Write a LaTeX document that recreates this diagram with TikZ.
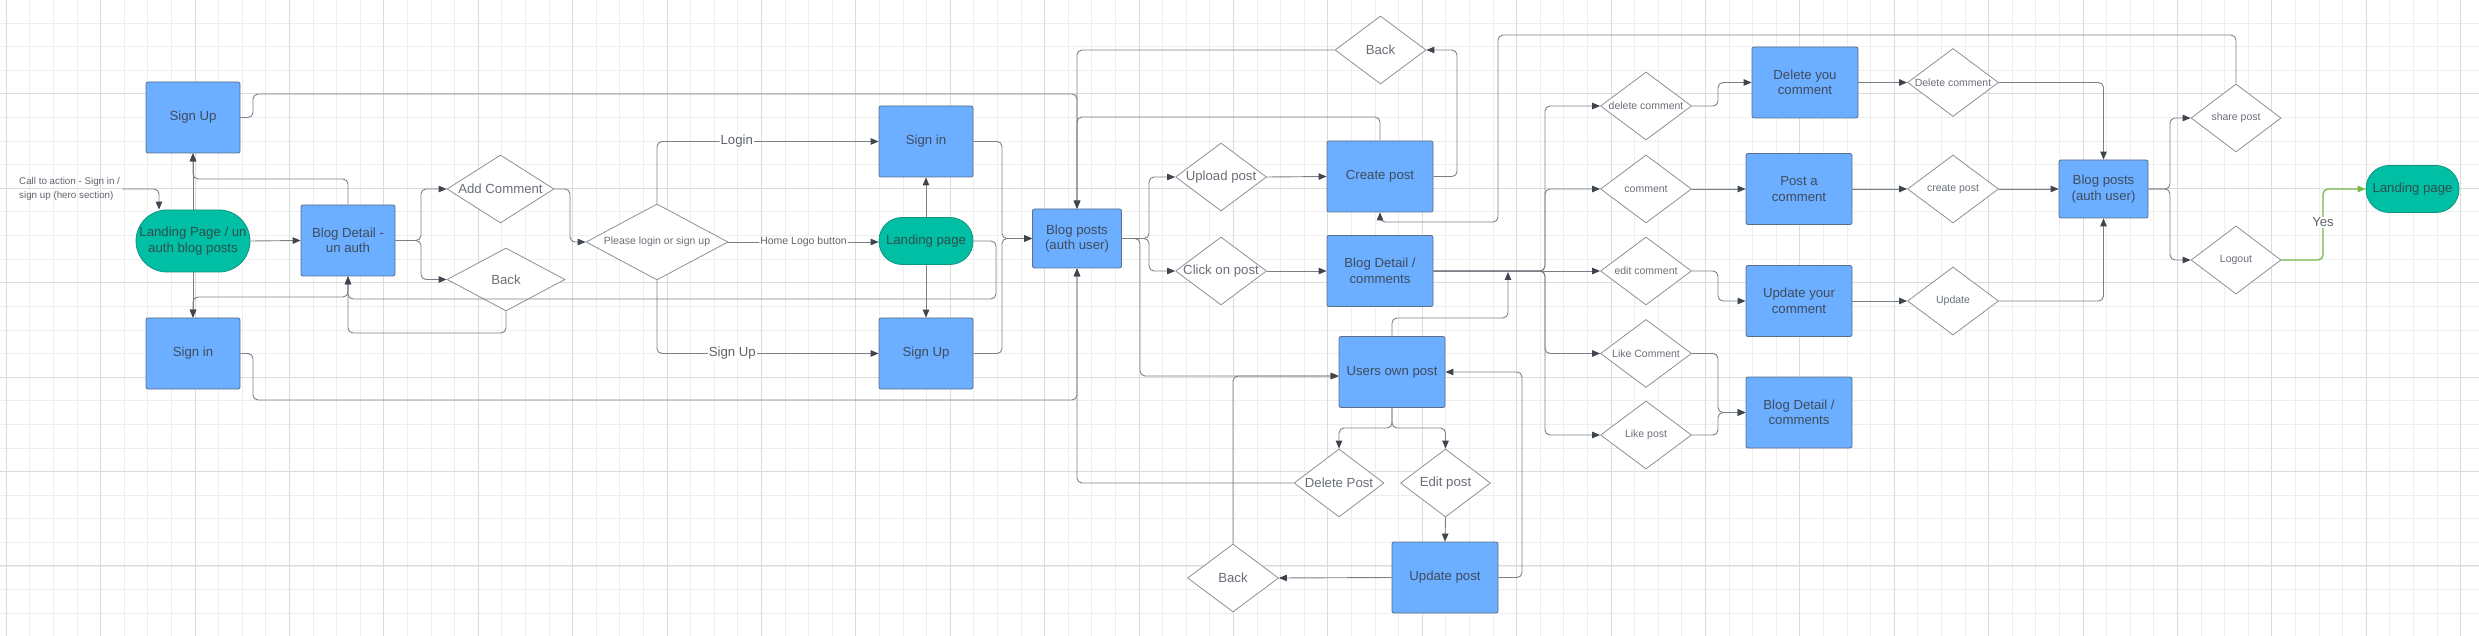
\documentclass[tikz,border=0pt]{standalone}
\usepackage{fontspec}
\setmainfont{Liberation Sans}
\usepackage{tikz}
\usetikzlibrary{arrows.meta}
\usetikzlibrary{shapes.geometric}
\usetikzlibrary{calc}

\definecolor{boxblue}{HTML}{6CAEFF}
\definecolor{boxline}{HTML}{5C6F88}
\definecolor{boxtext}{HTML}{3F4C5E}
\definecolor{termteal}{HTML}{00BFA5}
\definecolor{termline}{HTML}{12947F}
\definecolor{termtext}{HTML}{2F4F4B}
\definecolor{dialine}{HTML}{8C9097}
\definecolor{diatext}{HTML}{6A6F77}
\definecolor{linegray}{HTML}{7A7F86}
\definecolor{tipgray}{HTML}{3F454D}
\definecolor{lbltext}{HTML}{5F646B}
\definecolor{yesgreen}{HTML}{7AB648}
\definecolor{gridmin}{HTML}{EEEEEE}
\definecolor{gridmaj}{HTML}{DCDCDC}

\newcommand{\bigfnt}{\fontsize{13.2}{15.5}\selectfont}
\newcommand{\smallfnt}{\fontsize{10.5}{12.5}\selectfont}
\newcommand{\notefnt}{\fontsize{9.8}{14.3}\selectfont}

\tikzset{
  procbox/.style = {draw=boxline, line width=0.8pt, fill=boxblue, rounded corners=2pt,
    text=boxtext, font=\bigfnt, align=center, inner sep=1pt,
    minimum width=94pt, minimum height=71pt},% process box
  termbox/.style = {draw=termline, line width=0.8pt, fill=termteal, text=termtext,
    font=\bigfnt, align=center, inner sep=1pt, rounded corners=23pt,
    minimum width=94pt, minimum height=47pt},% landing pages
  decision/.style = {diamond, aspect=2, draw=dialine, line width=0.8pt, fill=white,
    text=diatext, font=\bigfnt, inner xsep=-8pt, inner ysep=0pt,
    minimum width=91pt, minimum height=68pt},% choice
  smalldec/.style = {decision, font=\smallfnt},
  conn/.style = {draw=linegray, line width=0.9pt, rounded corners=5pt,
    -{Triangle[length=8pt,width=6.5pt,color=tipgray]}},
  lbl/.style = {fill=white, text=lbltext, font=\bigfnt, inner sep=1pt},
  notetext/.style = {text=lbltext, font=\notefnt, align=left, inner sep=2pt}
}

\begin{document}
\begin{tikzpicture}[x=1pt, y=-1pt]
\useasboundingbox (0,0) rectangle (2479,636);
% background grid
\foreach \i in {0,...,105}
  \draw[gridmin, line width=0.8pt] ({6.2+23.6*\i},0) -- ({6.2+23.6*\i},636);
\foreach \j in {1,...,27}
  \draw[gridmin, line width=0.8pt] (0,{23.6*\j-0.5}) -- (2479,{23.6*\j-0.5});
\foreach \i in {0,...,26}
  \draw[gridmaj, line width=1pt] ({6.2+94.4*\i},0) -- ({6.2+94.4*\i},636);
\foreach \j in {1,...,6}
  \draw[gridmaj, line width=1pt] (0,{94.4*\j-0.5}) -- (2479,{94.4*\j-0.5});

% not logged in
\node[termbox, minimum width=114pt, minimum height=62pt, rounded corners=31pt] (lpu) at (193,241) {Landing Page / un\\auth blog posts};
\node[procbox] (su1) at (193,117.5) {Sign Up};
\node[procbox] (si1) at (193,353.5) {Sign in};
\node[procbox] (bdu) at (348,240.5) {Blog Detail -\\un auth};
\node[decision, minimum width=107pt] (addc) at (500.5,189) {Add Comment};
\node[decision, minimum width=118pt, minimum height=63pt] (back1) at (506,279.5) {Back};
\node[smalldec, minimum width=142pt, minimum height=76pt] (plz) at (657,242) {Please login or sign up};
\node[procbox] (si2) at (926,141.5) {Sign in};
\node[termbox] (lpm) at (926,241) {Landing page};
\node[procbox] (su2) at (926,353.5) {Sign Up};
\node[notetext, anchor=west] (cta) at (17,189) {Call to action - Sign in /\\sign up (hero section)};

% logged in
\node[procbox, minimum width=89pt, minimum height=59pt] (bpa1) at (1077,238.5) {Blog posts\\(auth user)};
\node[decision] (upl) at (1221,177) {Upload post};
\node[decision] (clk) at (1221,271) {Click on post};
\node[procbox, minimum width=106pt] (cp) at (1380,176.5) {Create post};
\node[decision] (back2) at (1380.5,50) {Back};
\node[procbox, minimum width=106pt] (bdc1) at (1380,271) {Blog Detail /\\comments};
\node[procbox, minimum width=106pt] (uop) at (1392,372) {Users own post};
\node[decision, minimum width=90pt] (delp) at (1339,483) {Delete Post};
\node[decision, minimum width=90pt] (edp) at (1445.5,483) {Edit post};
\node[procbox, minimum width=106pt] (upp) at (1445,577.5) {Update post};
\node[decision] (back3) at (1233,578) {Back};

% comments
\node[smalldec] (dc1) at (1646,106) {delete comment};
\node[smalldec] (cmt) at (1646,189) {comment};
\node[smalldec] (edc) at (1646,271) {edit comment};
\node[smalldec] (lkc) at (1646,353.5) {Like Comment};
\node[smalldec] (lkp) at (1646,435) {Like post};
\node[procbox, minimum width=106pt] (dyc) at (1805,82.5) {Delete you\\comment};
\node[procbox, minimum width=106pt] (pac) at (1799,189) {Post a\\comment};
\node[procbox, minimum width=106pt] (uyc) at (1799,301) {Update your\\comment};
\node[procbox, minimum width=106pt] (bdc2) at (1799,412.5) {Blog Detail /\\comments};
\node[smalldec] (dc2) at (1953,82.5) {Delete comment};
\node[smalldec] (crp) at (1953,189) {create post};
\node[smalldec] (upd) at (1953,301) {Update};
\node[procbox, minimum width=89pt, minimum height=58pt] (bpa2) at (2103.5,189) {Blog posts\\(auth user)};
\node[smalldec, minimum width=90pt] (shp) at (2236,118) {share post};
\node[smalldec, minimum width=90pt] (lgo) at (2236,260) {Logout};
\node[termbox, minimum width=93pt] (lpr) at (2412.5,189) {Landing page};

\coordinate (busj) at (1508,272);

% connectors, left part
\draw[conn] (cta.east) -| ([xshift=-34pt]lpu.north);
\draw[conn] (lpu.north) -- (su1.south);
\draw[conn] (bdu.north) |- (193,179) -- (su1.south);
\draw[conn] (lpu.east) -- (bdu.west);
\draw[conn] (lpu.south) -- (si1.north);
\draw[conn] (bdu.south) |- (193,297) -- (si1.north);
\draw[conn] (bdu.east) -- (421,240.5) |- (addc.west);
\draw[conn] (bdu.east) -- (421,240.5) |- (back1.west);
\draw[conn] (back1.south) -- (506,333) -| (bdu.south);
\draw[conn] (addc.east) -- (570,189) |- (plz.west);
\draw[conn] (plz.north) |- node[lbl, pos=0.68] {Login} (si2.west);
\draw[conn] (plz.east) -- node[lbl, font=\smallfnt] {Home Logo button} (plz.east -| lpm.west);
\draw[conn] (plz.south) |- node[lbl, pos=0.67] {Sign Up} (su2.west);
\draw[conn] (lpm.north) -- (si2.south);
\draw[conn] (lpm.south) -- (su2.north);
\draw[conn] (lpm.east) -- (996,241) -- (996,299) -| (bdu.south);
\draw[conn] (si2.east) -- (1002,141.5) |- (bpa1.west);
\draw[conn] (su2.east) -- (1002,353.5) |- (bpa1.west);
\draw[conn] (su1.east) -- (253,117.5) |- (1077,94) -- (bpa1.north);
\draw[conn] (si1.east) -- (253,353.5) |- (1077,400) -- (bpa1.south);

% connectors, posts
\draw[conn] (back2.west) -| (bpa1.north);
\draw[conn] (cp.north) -- (1380,117) -| (bpa1.north);
\draw[conn] (delp.west) -| (bpa1.south);
\draw[conn] (bpa1.east) -- (1149,238.5) |- (upl.west);
\draw[conn] (bpa1.east) -- (1149,238.5) |- (clk.west);
\draw[conn] (bpa1.east) -- (1140,238.5) |- ([yshift=-4pt]uop.west);
\draw[conn] (upl.east) -- (cp.west);
\draw[conn] (clk.east) -- (bdc1.west);
\draw[conn] (cp.east) -- (1457,176.5) |- (back2.east);
\draw[conn] (shp.north) |- (1498,35) |- (1380,222) -- (cp.south);
\draw[conn] (uop.south) -- (1392,428) -| (delp.north);
\draw[conn] (uop.south) -- (1392,428) -| (edp.north);
\draw[conn] (edp.south) -- (upp.north);
\draw[conn] (upp.west) -- (back3.east);
\draw[conn] (upp.east) -- (1522,577.5) |- (uop.east);
\draw[conn] (back3.north) |- ([yshift=-4pt]uop.west);
\draw[conn] (uop.north) -- (1392,318) -| (busj);

% connectors, comments
\draw[conn] (bdc1.east) -- (1545,271) |- (dc1.west);
\draw[conn] (bdc1.east) -- (1545,271) |- (cmt.west);
\draw[conn] (bdc1.east) -- (edc.west);
\draw[conn] (bdc1.east) -- (1545,271) |- (lkc.west);
\draw[conn] (bdc1.east) -- (1545,271) |- (lkp.west);
\draw[conn] (dc1.east) -- (1718,106) |- (dyc.west);
\draw[conn] (cmt.east) -- (pac.west);
\draw[conn] (edc.east) -- (1718,271) |- (uyc.west);
\draw[conn] (lkc.east) -- (1718,353.5) |- (bdc2.west);
\draw[conn] (lkp.east) -- (1718,435) |- (bdc2.west);
\draw[conn] (dyc.east) -- (dc2.west);
\draw[conn] (pac.east) -- (crp.west);
\draw[conn] (uyc.east) -- (upd.west);
\draw[conn] (dc2.east) -| (bpa2.north);
\draw[conn] (crp.east) -- (bpa2.west);
\draw[conn] (upd.east) -| (bpa2.south);
\draw[conn] (bpa2.east) -- (2170,189) |- (shp.west);
\draw[conn] (bpa2.east) -- (2170,189) |- (lgo.west);
\draw[conn, draw=yesgreen, line width=1.3pt, -{Triangle[length=8pt,width=6.5pt,color=yesgreen]}]
  (lgo.east) -- (2323,260) -- node[lbl, pos=0.53] {Yes} (2323,189) -- (lpr.west);
\end{tikzpicture}
\end{document}
